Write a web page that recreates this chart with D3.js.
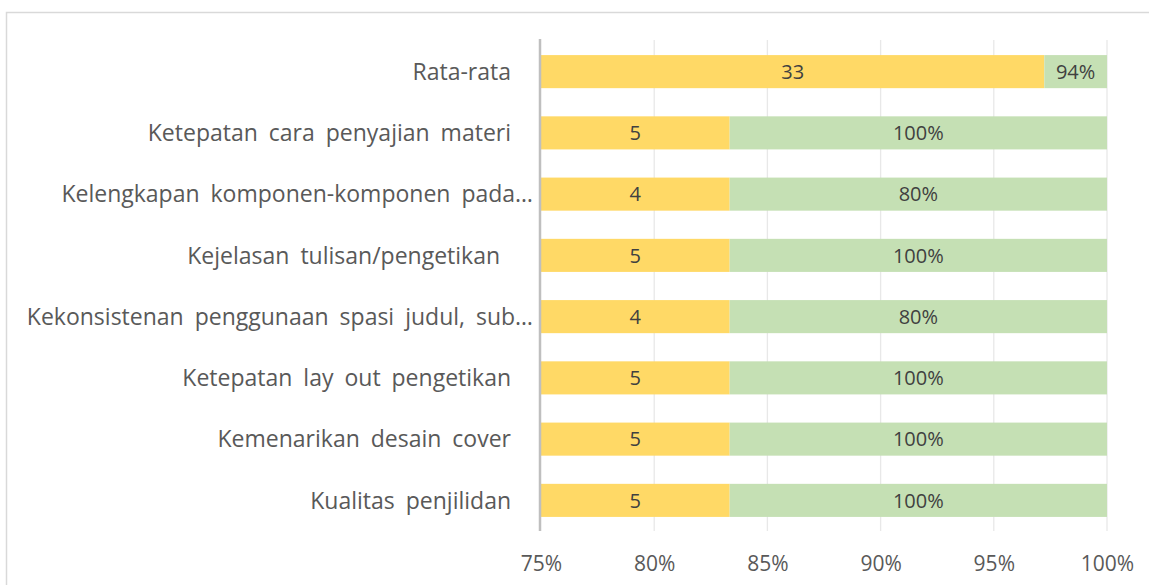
<!DOCTYPE html>
<html>
<head>
<meta charset="utf-8">
<script src="https://cdn.jsdelivr.net/npm/d3@7"></script>
<style>
  html, body { margin: 0; padding: 0; background: #fff; }
  svg text { font-family: "Open Sans", sans-serif; fill: #595959; white-space: pre; }
</style>
</head>
<body>
<div id="chart"></div>
<script>
const categories = [
  `Rata-rata `,
  `Ketepatan cara penyajian materi `,
  `Kelengkapan komponen-komponen pada…`,
  `Kejelasan tulisan/pengetikan  `,
  `Kekonsistenan penggunaan spasi judul, sub…`,
  `Ketepatan lay out pengetikan `,
  `Kemenarikan desain cover `,
  `Kualitas penjilidan `,
];
const scores = [33, 5, 4, 5, 4, 5, 5, 5];
const percents = [0.94, 1, 0.8, 1, 0.8, 1, 1, 1];
const xTicks = [0.75, 0.80, 0.85, 0.90, 0.95, 1.00];

const width = 1149;
const height = 585;
const margin = {top: 41, right: 42, bottom: 54, left: 541};
const colors = [`#FFD966`, `#C5E0B4`];
const keys = [`skor`, `persen`];

const rows = categories.map((c, i) => ({name: c, skor: scores[i], persen: percents[i]}));
const series = d3.stack().keys(keys).offset(d3.stackOffsetExpand)(rows);

const x = d3.scaleLinear()
  .domain([0.75, 1])
  .range([margin.left, width - margin.right]);

const y = d3.scaleBand()
  .domain(categories)
  .range([margin.top, height - margin.bottom])
  .paddingInner(0.46)
  .paddingOuter(0.23);

const svg = d3.select(`#chart`)
  .append(`svg`)
    .attr(`width`, width)
    .attr(`height`, height);

// chart area border (right and bottom run off the picture)
svg.append(`rect`)
  .attr(`x`, 6.5)
  .attr(`y`, 12.5)
  .attr(`width`, width + 20)
  .attr(`height`, height + 20)
  .attr(`fill`, `none`)
  .attr(`stroke`, `#D9D9D9`)
  .attr(`stroke-width`, 1.5);

// gridlines
svg.append(`g`)
  .selectAll(`line`)
  .data(xTicks.slice(1))
  .enter().append(`line`)
    .attr(`x1`, d => x(d))
    .attr(`x2`, d => x(d))
    .attr(`y1`, margin.top - 1)
    .attr(`y2`, height - margin.bottom)
    .attr(`stroke`, `#E8E8E8`)
    .attr(`stroke-width`, 1.3);

svg.append(`clipPath`)
  .attr(`id`, `plot`)
  .append(`rect`)
    .attr(`x`, x(0.75))
    .attr(`y`, 0)
    .attr(`width`, x(1) - x(0.75))
    .attr(`height`, height);

const clampX = v => x(Math.max(0.75, Math.min(1, v)));

const layer = svg.append(`g`)
  .attr(`clip-path`, `url(#plot)`)
  .selectAll(`g`)
  .data(series)
  .enter().append(`g`)
    .attr(`fill`, (d, i) => colors[i]);

layer.selectAll(`rect`)
  .data(d => d)
  .enter().append(`rect`)
    .attr(`x`, d => clampX(d[0]))
    .attr(`y`, d => y(d.data.name))
    .attr(`width`, d => clampX(d[1]) - clampX(d[0]))
    .attr(`height`, y.bandwidth());

// segment value labels
series.forEach((s, si) => {
  svg.append(`g`)
    .selectAll(`text`)
    .data(s)
    .enter().append(`text`)
      .attr(`x`, d => (clampX(d[0]) + clampX(d[1])) / 2)
      .attr(`y`, d => y(d.data.name) + y.bandwidth() / 2)
      .attr(`dy`, `0.36em`)
      .attr(`text-anchor`, `middle`)
      .style(`font-size`, `20px`)
      .style(`fill`, `#404040`)
      .text(d => si === 0 ? d.data.skor : d3.format(`.0%`)(d.data.persen));
});

// category axis
const yAxis = svg.append(`g`)
  .attr(`transform`, `translate(${x(0.75) - 1},0)`)
  .call(d3.axisLeft(y).tickSize(0).tickPadding(7));
yAxis.select(`.domain`)
  .attr(`d`, `M0,${margin.top - 2}V${height - margin.bottom}`)
  .attr(`stroke`, `#BFBFBF`)
  .attr(`stroke-width`, 2.5);
// truncated labels sit flush; the others keep Excel's extra right gap
yAxis.selectAll(`text`)
  .attr(`dy`, `0.36em`)
  .attr(`dx`, d => d.endsWith(`…`) ? 0 : -11)
  .style(`font-family`, `"Open Sans", sans-serif`)
  .style(`font-size`, `23px`)
  .style(`word-spacing`, `5px`)
  .style(`fill`, `#595959`);

// value axis
const xAxis = svg.append(`g`)
  .attr(`transform`, `translate(0,${height - margin.bottom})`)
  .call(d3.axisBottom(x).tickValues(xTicks).tickFormat(d3.format(`.0%`)).tickSize(0).tickPadding(32));
xAxis.select(`.domain`).remove();
xAxis.selectAll(`text`)
  .attr(`dy`, `0.36em`)
  .style(`font-family`, `"Open Sans", sans-serif`)
  .style(`font-size`, `21px`)
  .style(`fill`, `#595959`);
</script>
</body>
</html>
